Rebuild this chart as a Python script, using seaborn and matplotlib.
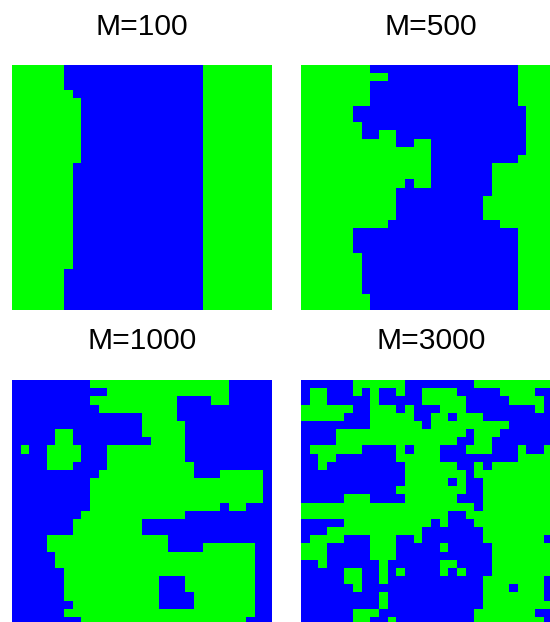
import matplotlib
matplotlib.use("Agg")
import matplotlib.pyplot as plt
from matplotlib.colors import ListedColormap
import numpy as np
import seaborn as sns

# 0 = blue, 1 = green
grid_100 = (["111111000000000000000011111111"] * 3
            + ["111111100000000000000011111111"]
            + ["111111110000000000000011111111"] * 8
            + ["111111100000000000000011111111"] * 13
            + ["111111000000000000000011111111"] * 5)

grid_500 = [
    "111111110000000000000000011111",
    "111111111100000000000000011111",
    "111111110000000000000000011111",
    "111111110000000000000000011111",
    "111111110000000000000000011111",
    "111111000000000000000000001111",
    "111111000000000000000000001111",
    "111111100000000000000000001111",
    "111111100110000000000000001111",
    "111111111110011000000000001111",
    "111111111111111000000000001111",
    "111111111111111000000000011111",
    "111111111111111000000011111111",
    "111111111111111000000011111111",
    "111111111111011000000011111111",
    "111111111110000000000011111111",
    "111111111110000000000111111111",
    "111111111110000000000111111111",
    "111111111110000000000111111111",
    "111111111100000000000001111111",
    "111111000000000000000000011111",
    "111111000000000000000000011111",
    "111111000000000000000000011111",
    "111111100000000000000000011111",
    "111111100000000000000000011111",
    "111111100000000000000000011111",
    "111111100000000000000000011111",
    "111111100000000000000000011111",
    "111111110000000000000000011111",
    "111111110000000000000000011111",
]

grid_1000 = [
    "000000000111111111111111100000",
    "000000000001111111111111100000",
    "000000000111111111100001100000",
    "000000000011111111100000000000",
    "000000000000000111100000000000",
    "000000000000000111110000000000",
    "000001100000000111110000000000",
    "000001100000000011110000000000",
    "010011110001111111110000000000",
    "000011110001111111110000000000",
    "000011100001111111111000000000",
    "000000000011111111111000111110",
    "000000000111111111111111111110",
    "000000000111111111111111111110",
    "000000000111111111111111111110",
    "000000000111111111111111011000",
    "000000001111111111110000000000",
    "000000011111111000000000000000",
    "000000011111111000000000000000",
    "000011111111111111000000000000",
    "000011111111111111000011111100",
    "000001111111111111111111111100",
    "000001111111111111111111111100",
    "000000111111111111111111111100",
    "000000111111111110001111111100",
    "000000111111111110001111111100",
    "000000111111111110000111111100",
    "000000011111111110000111111100",
    "000000111111111111111111111100",
    "000000001111111111111111111000",
]

grid_3000 = [
    "000000111111000000001111111111",
    "011000101001001111000001111000",
    "011000001000001111100000111100",
    "111111001110100011100000000100",
    "111110001111100110111000000000",
    "000000001111110111111111000000",
    "000011111111111111101110000000",
    "000011111111111111001100000000",
    "011111100001011100011100010011",
    "001100000001111100000000011111",
    "001000000000111111001011111111",
    "000000000000111111101111111111",
    "000000000000111110100111111111",
    "000000000001111111100111111111",
    "000001110000111111000111111111",
    "111111111111111111110111111111",
    "111111111111111110011111111111",
    "000001111111111010001111111111",
    "000111111111110000000111111111",
    "011110001110010000000111111101",
    "111000001110000010000011111111",
    "111000001110000000000011111111",
    "001000000100000011000011111111",
    "000001100101000010100011111111",
    "000001100100000000000111111100",
    "000000100000000000000111011100",
    "000000000100000000000111111100",
    "000000000100000000000111111111",
    "000000111000000000001111111000",
    "000000110010000000001111111100",
]

titles = ["M=100", "M=500", "M=1000", "M=3000"]
grids = [grid_100, grid_500, grid_1000, grid_3000]

# pixel boxes of the panels, the right and bottom ones run off the canvas
fig_w, fig_h = 550, 622
lefts = [12, 301, 12, 301]
tops = [65, 65, 380, 380]
panel_w, panel_h = 260, 245
title_y = [27, 27, 341, 341]

plt.rcParams["font.family"] = ["Liberation Sans", "DejaVu Sans"]
cmap = ListedColormap(["#0000ff", "#00ff00"])


def main():
    fig = plt.figure(figsize=(fig_w / 100, fig_h / 100), dpi=100)
    for i in range(4):
        data = np.array([[int(c) for c in row] for row in grids[i]])
        ax = fig.add_axes([lefts[i] / fig_w, 1 - (tops[i] + panel_h) / fig_h,
                           panel_w / fig_w, panel_h / fig_h])
        sns.heatmap(data, ax=ax, cmap=cmap, vmin=0, vmax=1, cbar=False,
                    xticklabels=False, yticklabels=False)
        fig.text((lefts[i] + panel_w / 2) / fig_w, 1 - title_y[i] / fig_h, titles[i],
                 ha="center", va="center", fontsize=21.6, color="black")
    fig.savefig("out.png", dpi=100)


if __name__ == "__main__":
    main()
